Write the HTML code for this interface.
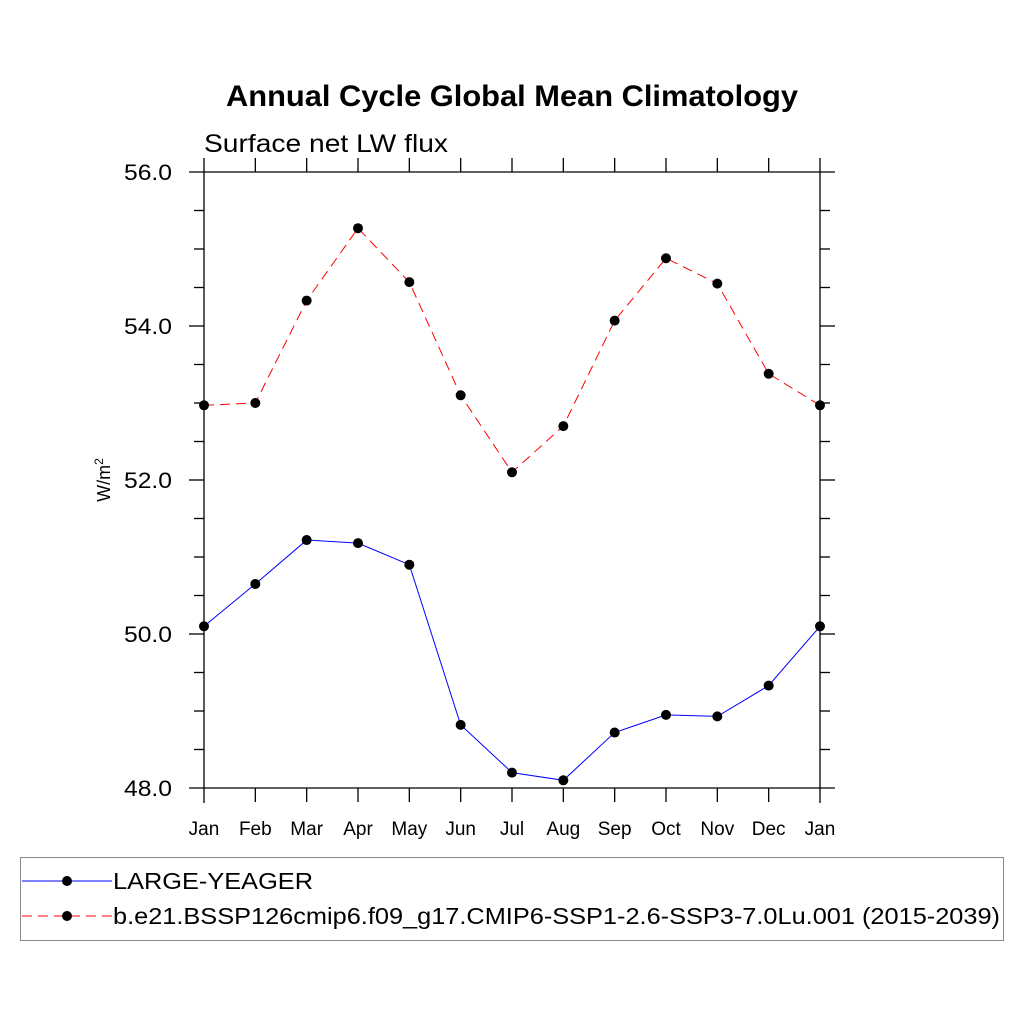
<!DOCTYPE html>
<html><head><meta charset="utf-8"><style>
body{margin:0;background:#fff}
svg{display:block;font-family:"Liberation Sans",sans-serif}
</style></head><body>
<svg width="1024" height="1024" viewBox="0 0 1024 1024">
<text x="226" y="106" font-size="30" font-weight="bold" textLength="572" lengthAdjust="spacingAndGlyphs">Annual Cycle Global Mean Climatology</text>
<text x="204" y="152" font-size="25" textLength="244" lengthAdjust="spacingAndGlyphs">Surface net LW flux</text>
<g id="axes" stroke="#000" stroke-width="1.3"></g>
<g id="ticklabels" font-size="20"></g>
<text transform="translate(110,480) rotate(-90)" text-anchor="middle" font-size="18">W/m<tspan font-size="12" dy="-7">2</tspan></text>
<g id="series"></g>
<rect x="20.5" y="857.5" width="983" height="83" fill="none" stroke="#888" stroke-width="1"/>
<g>
<line x1="22" y1="881" x2="112" y2="881" stroke="#00f" stroke-width="1"/>
<circle cx="67" cy="881" r="5" fill="#000"/>
<text x="113" y="889" font-size="23" textLength="200" lengthAdjust="spacingAndGlyphs">LARGE-YEAGER</text>
</g>
<g>
<line x1="22" y1="916" x2="112" y2="916" stroke="#f00" stroke-width="1" stroke-dasharray="10,6"/>
<circle cx="67" cy="916" r="5" fill="#000"/>
<text x="113" y="924" font-size="23" textLength="887" lengthAdjust="spacingAndGlyphs">b.e21.BSSP126cmip6.f09_g17.CMIP6-SSP1-2.6-SSP3-7.0Lu.001 (2015-2039)</text>
</g>
</svg>
<script>
const months=["Jan","Feb","Mar","Apr","May","Jun","Jul","Aug","Sep","Oct","Nov","Dec","Jan"];
const largeYeager=[50.1,50.65,51.22,51.18,50.9,48.82,48.2,48.1,48.72,48.95,48.93,49.33,50.1];
const sspRun=[52.97,53.0,54.33,55.27,54.57,53.1,52.1,52.7,54.07,54.88,54.55,53.38,52.97];
const yTicks=[48,50,52,54,56];
const yTickLabels=["48.0","50.0","52.0","54.0","56.0"];
const yMinorStep=0.5;
const ns="http://www.w3.org/2000/svg";
const X0=204,X1=820,Y0=788,Y1=172,YMIN=48,YMAX=56;
const xs=i=>X0+i*(X1-X0)/(months.length-1);
const ys=v=>Y0-(v-YMIN)*(Y0-Y1)/(YMAX-YMIN);
function mk(tag,attrs,parent){const e=document.createElementNS(ns,tag);for(const k in attrs)e.setAttribute(k,attrs[k]);parent.appendChild(e);return e;}
const ax=document.getElementById('axes');
let e;
e=mk('line',{x1:X0,y1:Y1-14,x2:X0,y2:Y0+15},ax);


e=mk('line',{x1:X1,y1:Y1-14,x2:X1,y2:Y0+15},ax);


e=mk('line',{x1:X0-15,y1:Y1,x2:X1+15,y2:Y1},ax);


e=mk('line',{x1:X0-15,y1:Y0,x2:X1+15,y2:Y0},ax);


const tl=document.getElementById('ticklabels');
months.forEach((m,i)=>{
 const x=xs(i);
 if(i>0&&i<months.length-1){mk('line',{x1:x,y1:Y1-14,x2:x,y2:Y1},ax);mk('line',{x1:x,y1:Y0,x2:x,y2:Y0+14},ax);}
 const t=mk('text',{x:x,y:835,'text-anchor':'middle','font-size':19},tl);
 t.textContent=m;
 
 
});
for(let v=YMIN;v<=YMAX+1e-9;v+=yMinorStep){
 const y=ys(v);const major=yTicks.some(t=>Math.abs(t-v)<1e-9);
 if(major&&(v===YMIN||v===YMAX))continue;
 const L=major?15:10;
 mk('line',{x1:X0-L,y1:y,x2:X0,y2:y},ax);
 mk('line',{x1:X1,y1:y,x2:X1+L,y2:y},ax);
}
yTicks.forEach((v,i)=>{
 const t=mk('text',{x:124,y:ys(v)+8,'font-size':22,textLength:48,lengthAdjust:'spacingAndGlyphs'},tl);
 t.textContent=yTickLabels[i];
 
 
});
const sg=document.getElementById('series');
function draw(data,color,dash,name){
 const g=mk('g',{},sg);
 
 
 mk('polyline',{points:data.map((v,i)=>xs(i)+','+ys(v)).join(' '),fill:'none',stroke:color,'stroke-width':1,'stroke-dasharray':dash},g);
 data.forEach((v,i)=>{
  const c=mk('circle',{cx:xs(i),cy:ys(v),r:5,fill:'#000'},g);
  
  
 });
}
draw(largeYeager,'#00f','none','series-large-yeager');
draw(sspRun,'#f00','10,6','series-ssp');
</script>
</body></html>
